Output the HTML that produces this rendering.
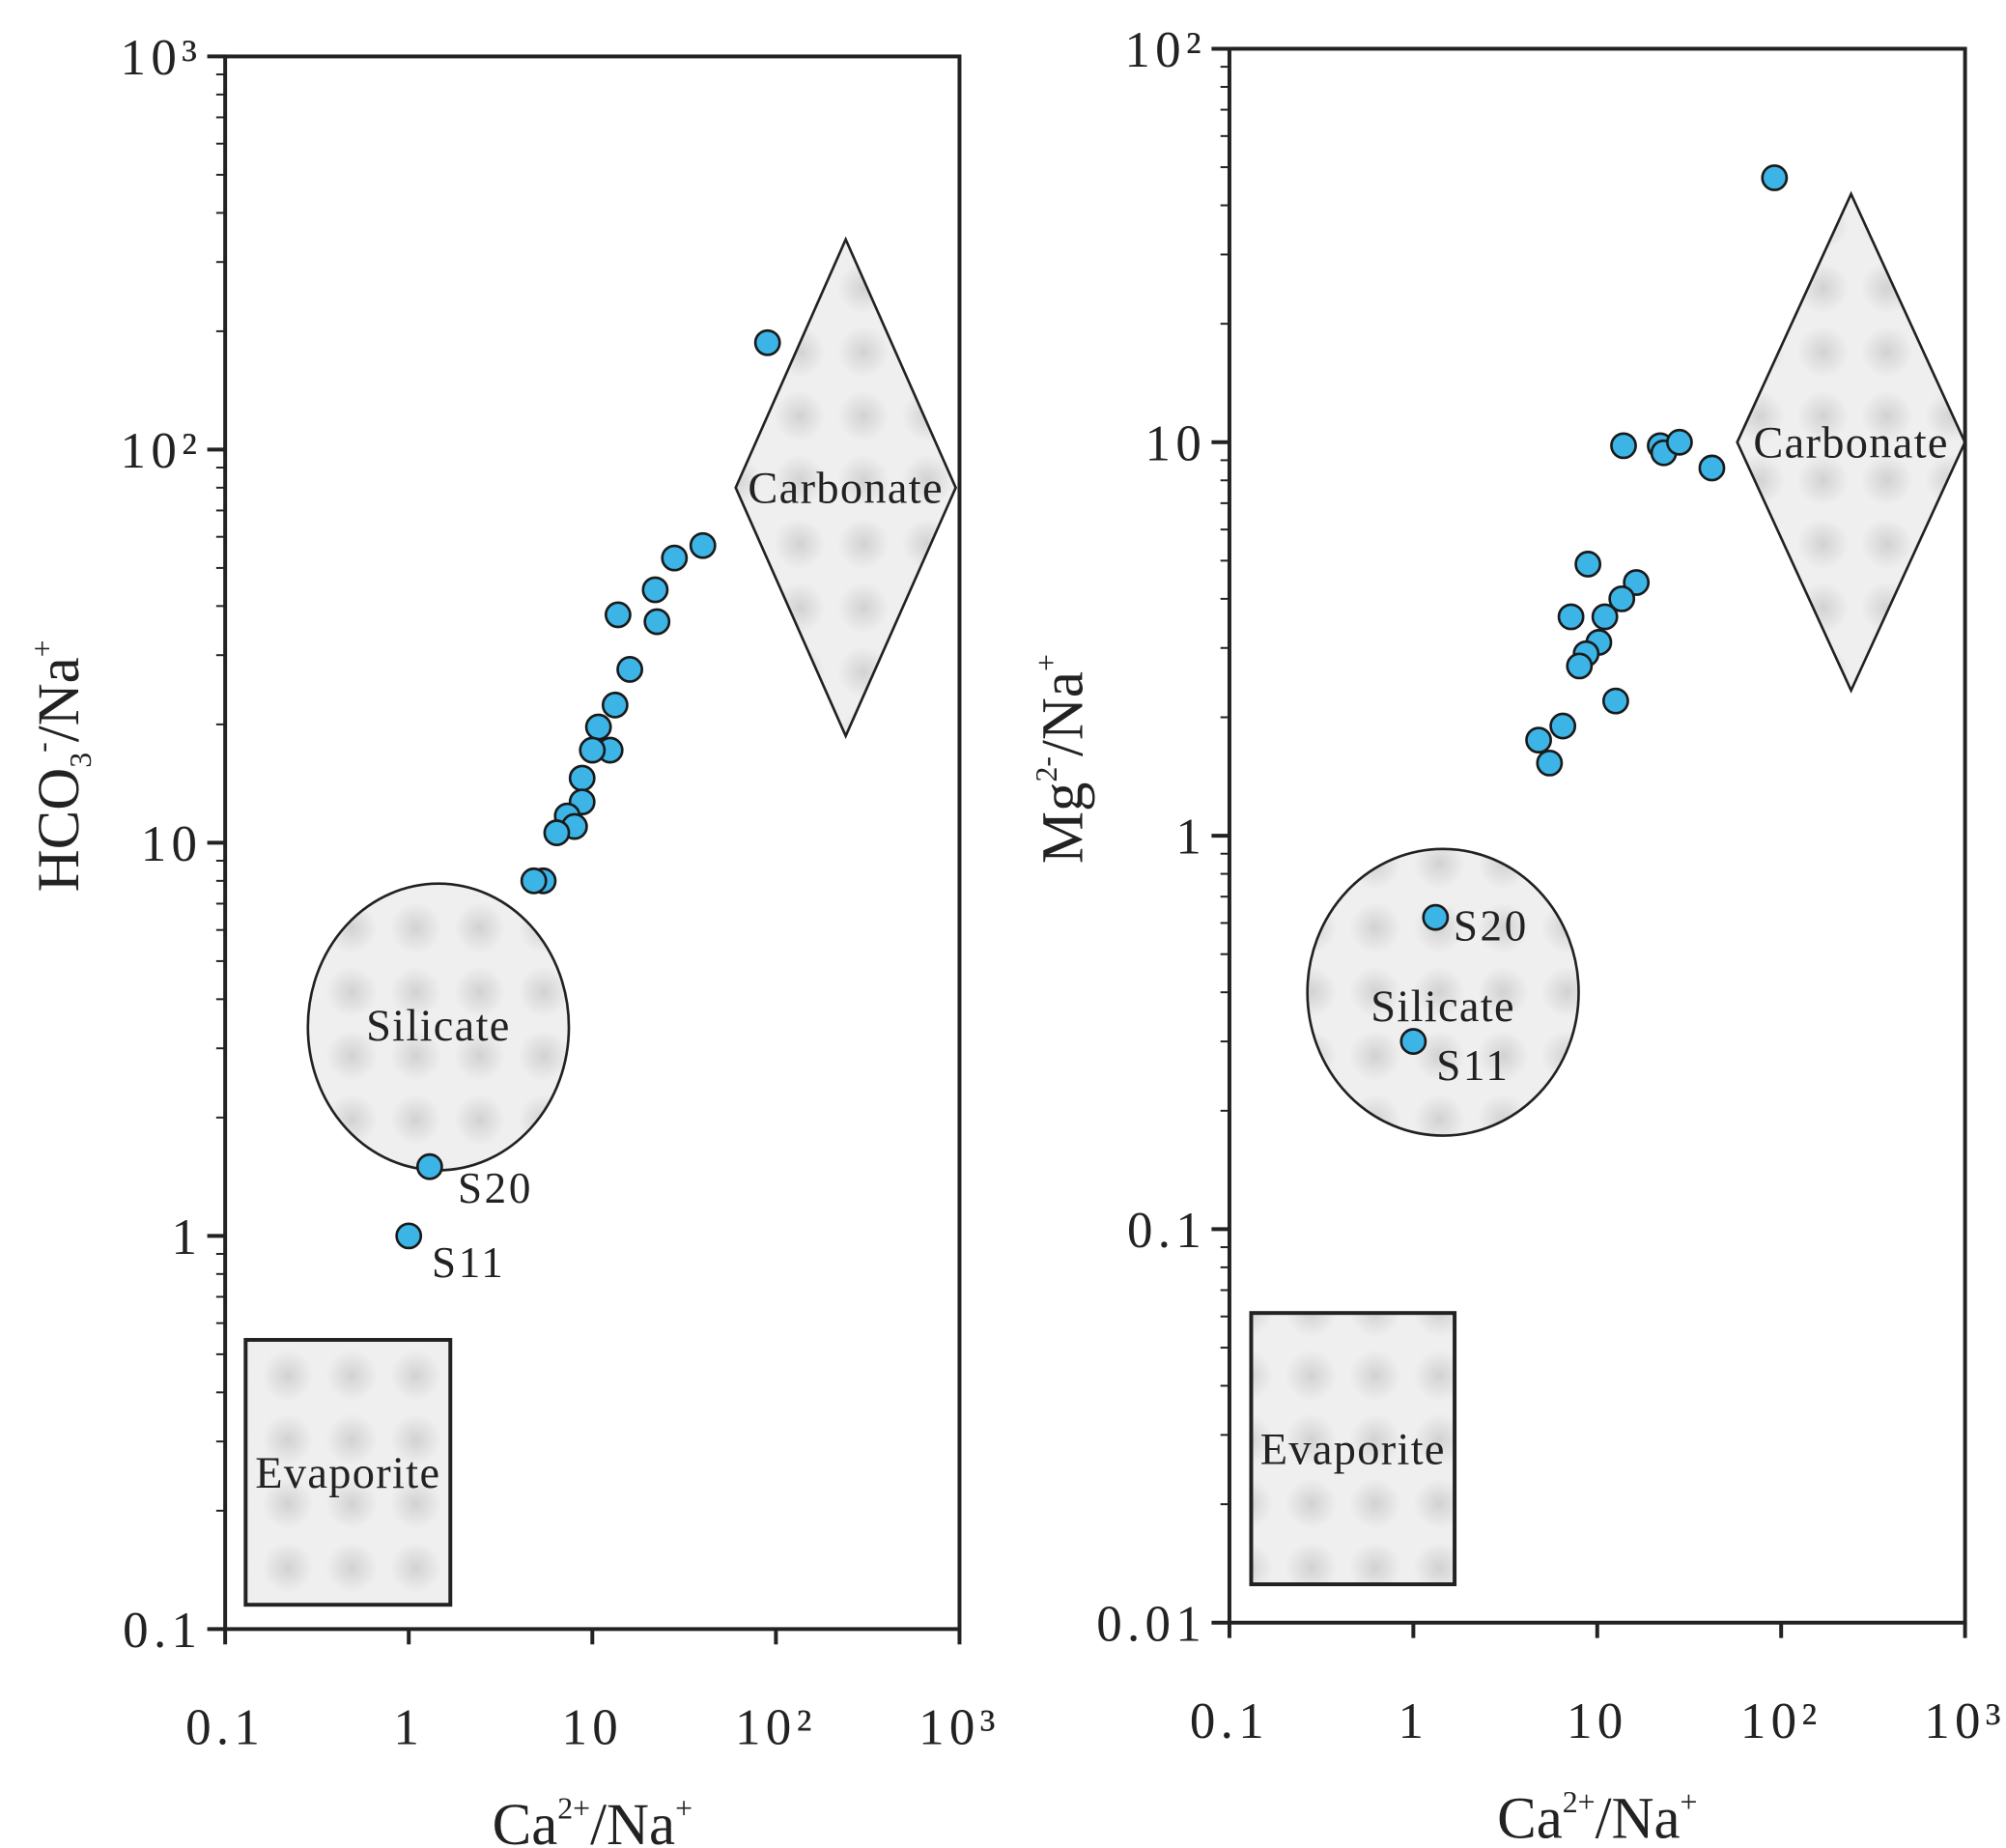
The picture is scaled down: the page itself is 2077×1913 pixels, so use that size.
<!DOCTYPE html>
<html><head><meta charset="utf-8"><style>
html,body{margin:0;padding:0;background:#fff;}
svg{display:block;}
text{font-family:"Liberation Serif",serif;fill:#222;}
</style></head><body>
<svg id="chart" width="2077" height="1913" viewBox="0 0 1568 1444" xmlns="http://www.w3.org/2000/svg">
<defs>
<radialGradient id="spot"><stop offset="0" stop-color="#d2d2d2"/><stop offset="1" stop-color="#efefef"/></radialGradient>
<pattern id="dots" width="50" height="50" patternUnits="userSpaceOnUse">
<rect width="50" height="50" fill="#efefef"/><circle cx="25" cy="25" r="20" fill="url(#spot)"/></pattern>
</defs>
<g id="left"></g>
<g id="right"></g>
</svg>
<script>
const xTickLabels = ["0.1","1","10","10²","10³"];
const yTickLabelsL = ["0.1","1","10","10²","10³"];
const yTickLabelsR = ["0.01","0.1","1","10","10²"];
const leftCa = [90,40,28,22,22.5,13.8,16,13.3,12.5,10.8,10,8.8,8.8,7.3,8,6.4,5.4,4.8,1.3,1.0];
const leftHCO3 = [187,57,53,44,36.5,38,27.6,22.4,17.2,19.7,17.2,14.6,12.7,11.7,11,10.6,8.0,8.0,1.5,1.0];
const rightCa = [92,13.9,22,23,28,42,8.9,16.3,13.6,11,7.2,10.2,8.7,8,12.6,6.5,4.8,5.5,1.32,1.0];
const rightMg = [47,9.8,9.8,9.4,10,8.6,4.9,4.4,4.0,3.6,3.6,3.1,2.9,2.7,2.2,1.9,1.75,1.53,0.62,0.3];

const NS="http://www.w3.org/2000/svg";
function mk(p,tag,a){const e=document.createElementNS(NS,tag);for(const k in a)e.setAttribute(k,a[k]);p.appendChild(e);return e;}

function panel(g, cfg){
  const {x0,x1,y0,y1,xmin,ymin,ylabels,xs,ys,title,shapes,ann}=cfg;
  const X=v=>x0+(Math.log10(v)-Math.log10(xmin))/4*(x1-x0);
  const Y=v=>y1-(Math.log10(v)-Math.log10(ymin))/4*(y1-y0);
  const ell=mk(g,"ellipse",{cx:X(shapes.ell[0]),cy:Y(shapes.ell[1]),rx:shapes.ell[2],ry:shapes.ell[3],fill:"url(#dots)",stroke:"#222","stroke-width":2});
  
  
  const d=shapes.dia, cx=X(d[0]), cy=Y(d[1]);
  const dm=mk(g,"polygon",{points:`${cx},${cy-d[3]} ${cx+d[2]},${cy} ${cx},${cy+d[3]} ${cx-d[2]},${cy}`,fill:"url(#dots)",stroke:"#222","stroke-width":2});
  
  
  const r=shapes.rect;
  const rc=mk(g,"rect",{x:r[0],y:r[1],width:r[2],height:r[3],fill:"url(#dots)",stroke:"#222","stroke-width":3});
  
  
  const lab=(t,x,y,n,sz)=>{const e=mk(g,"text",{x:x,y:y,"font-size":sz||35,"text-anchor":"middle","letter-spacing":1});e.textContent=t;};
  lab("Carbonate",cx,cy+12,"carbonate-label");
  lab("Silicate",X(shapes.ell[0]),shapes.silY,"silicate-label");
  lab("Evaporite",r[0]+r[2]/2,r[1]+r[3]/2+12,"evaporite-label");
  const fr=mk(g,"rect",{x:x0,y:y0,width:x1-x0,height:y1-y0,fill:"none",stroke:"#222","stroke-width":3});
  
  
  for(let i=0;i<5;i++){
    const xv=xmin*Math.pow(10,i), px=X(xv);
    mk(g,"line",{x1:px,y1:y1,x2:px,y2:y1+12,stroke:"#222","stroke-width":3});
    const t=mk(g,"text",{x:px,y:y1+90,"font-size":40,"text-anchor":"middle","letter-spacing":4});
    t.textContent=xTickLabels[i];
    
    
    const yv=ymin*Math.pow(10,i), py=Y(yv);
    mk(g,"line",{x1:x0-14,y1:py,x2:x0,y2:py,stroke:"#222","stroke-width":3});
    const u=mk(g,"text",{x:x0-18,y:py+14,"font-size":40,"text-anchor":"end","letter-spacing":4});
    u.textContent=ylabels[i];
    
    
    if(i<4) for(let m=2;m<10;m++){const pm=Y(yv*m);mk(g,"line",{x1:x0-7,y1:pm,x2:x0,y2:pm,stroke:"#222","stroke-width":1.5});}
  }
  const xt=mk(g,"text",{x:(x0+x1)/2,y:y1+168,"font-size":46,"text-anchor":"middle"});
  xt.innerHTML='Ca<tspan font-size="24" dy="-20">2+</tspan><tspan dy="20">/Na</tspan><tspan font-size="24" dy="-20">+</tspan>';
  
  
  const yt=mk(g,"text",{x:0,y:0,"font-size":46,"text-anchor":"middle",transform:`translate(${x0-115},${(y0+y1)/2-60}) rotate(-90)`});
  yt.innerHTML=title;
  
  
  for(let i=0;i<xs.length;i++){
    const c=mk(g,"circle",{cx:X(xs[i]),cy:Y(ys[i]),r:9.5,fill:"#3cb4e6",stroke:"#1a1a1a","stroke-width":2});
    
    
  }
  ann.forEach(a=>{const e=mk(g,"text",{x:X(a[1])+a[3],y:Y(a[2])+a[4],"font-size":34,"letter-spacing":2,fill:"#333"});e.textContent=a[0];});
}
panel(document.getElementById('left'),{x0:176,x1:750,y0:44,y1:1273,xmin:0.1,ymin:0.1,ylabels:yTickLabelsL,xs:leftCa,ys:leftHCO3,
 title:'HCO<tspan font-size="24" dy="10">3</tspan><tspan font-size="24" dy="-30">-</tspan><tspan dy="20">/Na</tspan><tspan font-size="24" dy="-20">+</tspan>',
 shapes:{ell:[1.45,3.4,102,112],dia:[240,80,86,194],rect:[192,1047,160,207],silY:813},
 ann:[["S20",1.3,1.5,22,28],["S11",1.0,1.0,18,32]]});
panel(document.getElementById('right'),{x0:961,x1:1536,y0:38,y1:1268,xmin:0.1,ymin:0.01,ylabels:yTickLabelsR,xs:rightCa,ys:rightMg,
 title:'Mg<tspan font-size="24" dy="-20">2-</tspan><tspan dy="20">/Na</tspan><tspan font-size="24" dy="-20">+</tspan>',
 shapes:{ell:[1.45,0.4,106,112],dia:[240,10,89,194],rect:[978,1026,159,212],silY:798},
 ann:[["S20",1.32,0.62,14,18],["S11",1.0,0.3,18,30]]});
</script>
</body></html>
